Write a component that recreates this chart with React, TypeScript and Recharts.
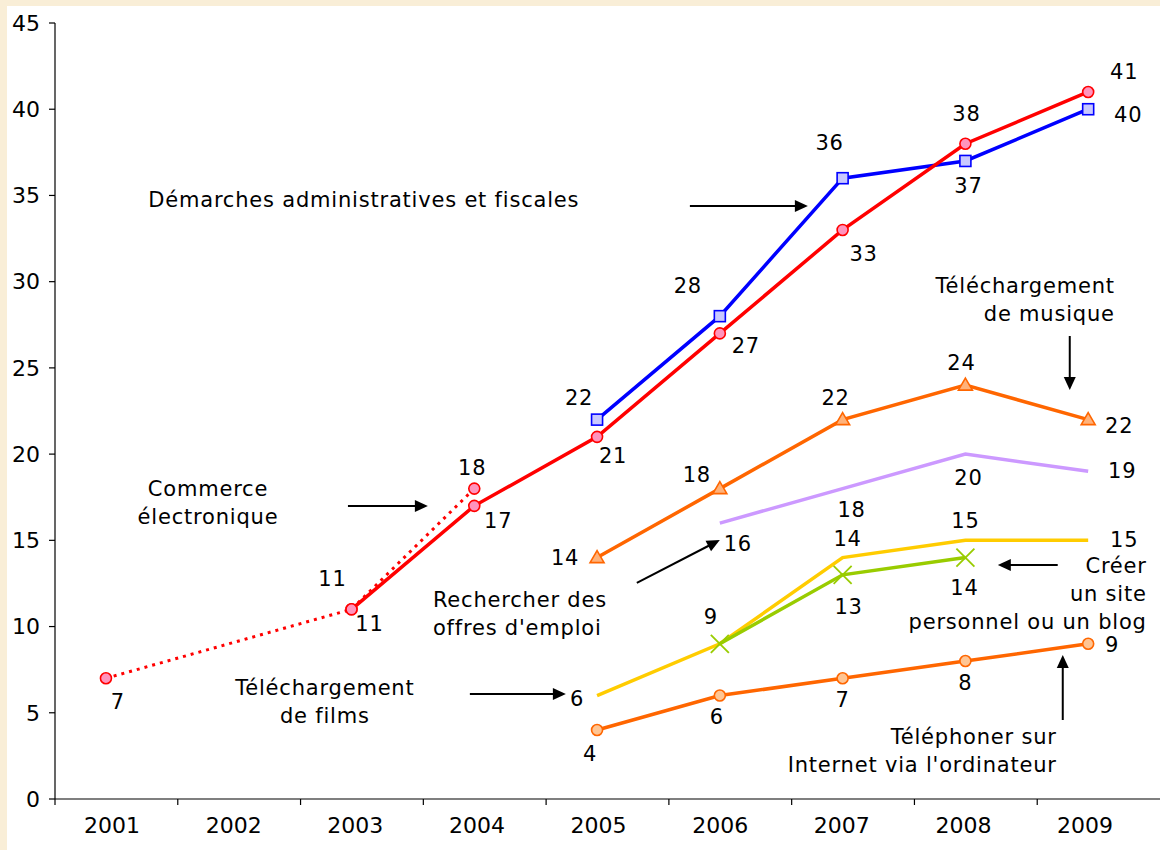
import React from 'react';
import { LineChart, Line, XAxis, YAxis, LabelList, ReferenceDot, ReferenceLine } from 'recharts';

const FONT = '"DejaVu Sans", Verdana, sans-serif';

// ---------- data ----------
const years = ['2001', '2002', '2003', '2004', '2005', '2006', '2007', '2008', '2009'];
const demarches = [null, null, null, null, 22, 28, 36, 37, 40];
const commerce = [null, null, 11, 17, 21, 27, 33, 38, 41];
const commerceEarly = [7, null, 11, 18, null, null, null, null, null];
const musique = [null, null, null, null, 14, 18, 22, 24, 22];
const emploi = [null, null, null, null, null, 16, 18, 20, 19];
const films = [null, null, null, null, 6, 9, 14, 15, 15];
const blog = [null, null, null, null, null, 9, 13, 14, null];
const telephone = [null, null, null, null, 4, 6, 7, 8, 9];
const yTicks = [0, 5, 10, 15, 20, 25, 30, 35, 40, 45];

const rows = years.map((year, i) => ({
  x: i,
  year,
  demarches: demarches[i],
  commerce: commerce[i],
  commerceEarly: commerceEarly[i],
  musique: musique[i],
  emploi: emploi[i],
  films: films[i],
  blog: blog[i],
  telephone: telephone[i],
}));

// ---------- layout / style ----------
const X_MIN = -0.415;
const X_MAX = 8.585;
const LABEL_MIN = -0.469;
const LABEL_MAX = 8.616;
const catTicks = years.map((_, i) => i);
const boundaryTicks = years.map((_, i) => X_MIN + i);

type Off = [number, number] | null;
const labelOffsets: Record<string, Off[]> = {
  demarches: [null, null, null, null, [-18, -22], [-32, -30], [-13, -35], [3, 25], [40, 6]],
  commerce: [null, null, [18, 15], [24, 15], [16, 19], [26, 13], [21, 24], [1, -30], [36, -20]],
  commerceEarly: [[12, 24], null, [-19, -30], [-2, -21], null, null, null, null, null],
  musique: [null, null, null, null, [-32, 0], [-23, -14], [-7, -22], [-4, -22], [31, 6]],
  emploi: [null, null, null, null, null, [18, 21], [9, 21], [3, 24], [34, 0]],
  films: [null, null, null, null, [-20, 3], null, [5, -19], [0, -19], [36, 0]],
  blog: [null, null, null, null, null, [-9, -27], [6, 32], [-1, 30], null],
  telephone: [null, null, null, null, [-7, 24], [-3, 21], [0, 22], [0, 22], [24, 1]],
};

const notes = [
  { x: 2.1, y: 34.74, anchor: 'middle', lines: ['Démarches administratives et fiscales'] },
  { x: 8.217, y: 28.94, anchor: 'end', lines: ['Téléchargement', 'de musique'] },
  { x: 0.831, y: 17.17, anchor: 'middle', lines: ['Commerce', 'électronique'] },
  { x: 2.663, y: 10.7, anchor: 'start', lines: ['Rechercher des', "offres d'emploi"] },
  { x: 1.783, y: 5.625, anchor: 'middle', lines: ['Téléchargement', 'de films'] },
  { x: 8.477, y: 11.89, anchor: 'end', lines: ['Créer', 'un site', 'personnel ou un blog'] },
  { x: 7.744, y: 2.755, anchor: 'end', lines: ['Téléphoner sur', "Internet via l'ordinateur"] },
];

const arrows = [
  { x1: 4.756, y1: 34.39, x2: 5.717, y2: 34.39 },
  { x1: 7.85, y1: 26.85, x2: 7.85, y2: 23.72 },
  { x1: 1.971, y1: 16.99, x2: 2.622, y2: 16.99 },
  { x1: 4.324, y1: 12.53, x2: 5.0, y2: 15.02 },
  { x1: 2.964, y1: 6.09, x2: 3.746, y2: 6.09 },
  { x1: 7.752, y1: 13.57, x2: 7.264, y2: 13.57 },
  { x1: 7.793, y1: 4.58, x2: 7.793, y2: 8.35 },
];

const TEXT_SIZE = 21;
const LETTER = 0.8;
const LINE_H = 28;

const makeLabel = (offs: Off[]) => (props: any) => {
  const x = props.x ?? props.viewBox?.x;
  const y = props.y ?? props.viewBox?.y;
  const idx = props.index;
  const v = props.value;
  if (v == null || x == null || y == null || idx == null) return <g key={`l${idx}`} />;
  const o = offs[idx];
  if (!o) return <g key={`l${idx}`} />;
  return (
    <text
      key={`l${idx}`}
      x={x + o[0]}
      y={y + o[1]}
      textAnchor="middle"
      dominantBaseline="central"
      fontFamily={FONT}
      fontSize={TEXT_SIZE}
      letterSpacing={LETTER}
      fill="#000"
    >
      {v}
    </text>
  );
};

const empty = (p: any) => <g key={`e${p.index}`} />;

const circleDot = (fill: string, stroke: string) => (p: any) => {
  if (p.cx == null || p.cy == null || p.value == null) return empty(p);
  return <circle key={`c${p.index}`} cx={p.cx} cy={p.cy} r={5.5} fill={fill} stroke={stroke} strokeWidth={1.6} />;
};

const squareDot = (p: any) => {
  if (p.cx == null || p.cy == null || p.value == null) return empty(p);
  return (
    <rect key={`s${p.index}`} x={p.cx - 5.5} y={p.cy - 5.5} width={11} height={11} fill="#c8c8ff" stroke="#0000ff" strokeWidth={1.6} />
  );
};

const triangleDot = (p: any) => {
  if (p.cx == null || p.cy == null || p.value == null) return empty(p);
  const { cx, cy } = p;
  return (
    <polygon
      key={`t${p.index}`}
      points={`${cx},${cy - 7} ${cx + 7},${cy + 5} ${cx - 7},${cy + 5}`}
      fill="#ffb27a"
      stroke="#ff6600"
      strokeWidth={1.6}
    />
  );
};

const crossDot = (p: any) => {
  if (p.cx == null || p.cy == null || p.value == null) return empty(p);
  const { cx, cy } = p;
  const s = 9;
  return (
    <g key={`x${p.index}`}>
      <line x1={cx - s} y1={cy - s} x2={cx + s} y2={cy + s} stroke="#99cc00" strokeWidth={1.8} />
      <line x1={cx - s} y1={cy + s} x2={cx + s} y2={cy - s} stroke="#99cc00" strokeWidth={1.8} />
    </g>
  );
};

const NoteText = ({ cx, cy, lines, anchor }: any) => {
  if (cx == null || cy == null) return <g />;
  const top = cy - ((lines.length - 1) * LINE_H) / 2;
  return (
    <text
      x={cx}
      y={top}
      textAnchor={anchor}
      fontFamily={FONT}
      fontSize={TEXT_SIZE}
      letterSpacing={LETTER}
      fill="#000"
      dominantBaseline="central"
    >
      {lines.map((l: string, k: number) => (
        <tspan key={k} x={cx} y={top + k * LINE_H} dominantBaseline="central">
          {l}
        </tspan>
      ))}
    </text>
  );
};

const ArrowShape = (p: any) => {
  const { x1, y1, x2, y2 } = p;
  if ([x1, y1, x2, y2].some((v) => v == null || isNaN(v))) return <g />;
  const dx = x2 - x1;
  const dy = y2 - y1;
  const len = Math.hypot(dx, dy) || 1;
  const ux = dx / len;
  const uy = dy / len;
  const hl = 13;
  const hw = 6;
  const bx = x2 - ux * hl;
  const by = y2 - uy * hl;
  return (
    <g>
      <line x1={x1} y1={y1} x2={bx + ux * 1} y2={by + uy * 1} stroke="#000" strokeWidth={2} />
      <polygon points={`${x2},${y2} ${bx - uy * hw},${by + ux * hw} ${bx + uy * hw},${by - ux * hw}`} fill="#000" />
    </g>
  );
};

const axisTick = { fill: '#000', fontFamily: FONT, fontSize: 22 };

export default function App() {
  return (
    <div style={{ position: 'absolute', left: 0, top: 0, width: 1160, height: 850, background: '#f9eed7', overflow: 'hidden' }}>
      <div style={{ position: 'absolute', left: 7, top: 6, width: 1153, height: 844, background: '#ffffff' }} />
      <div style={{ position: 'absolute', left: 0, top: 0 }}>
        <LineChart width={1160} height={850} data={rows} margin={{ top: 23, right: 0, bottom: 0, left: 8 }}>
          <XAxis
            xAxisId="m"
            type="number"
            dataKey="x"
            domain={[LABEL_MIN, LABEL_MAX]}
            ticks={catTicks}
            tickFormatter={(v: number) => years[v] ?? ''}
            height={51}
            axisLine={false}
            tickLine={false}
            tickSize={0}
            tickMargin={18}
            tick={{ fill: '#000', fontFamily: FONT, fontSize: 22 }}
            allowDataOverflow
          />
          <XAxis
            xAxisId="b"
            type="number"
            dataKey="x"
            domain={[X_MIN, X_MAX]}
            ticks={boundaryTicks}
            tickFormatter={() => ''}
            mirror
            height={1}
            tickSize={-6}
            axisLine={{ stroke: '#000', strokeWidth: 1.2 }}
            tickLine={{ stroke: '#000', strokeWidth: 1.2 }}
            allowDataOverflow
          />
          <YAxis
            type="number"
            domain={[0, 45]}
            ticks={yTicks}
            width={47}
            tickSize={6}
            tickMargin={9}
            axisLine={{ stroke: '#000', strokeWidth: 1.2 }}
            tickLine={{ stroke: '#000', strokeWidth: 1.2 }}
            tick={axisTick}
            allowDataOverflow
          />

          <Line xAxisId="b" dataKey="demarches" stroke="#0000ff" strokeWidth={3.5} dot={squareDot} activeDot={false} isAnimationActive={false}>
            <LabelList dataKey="demarches" content={makeLabel(labelOffsets.demarches)} />
          </Line>
          <Line xAxisId="b" dataKey="commerceEarly" stroke="#ff0000" strokeWidth={3} strokeDasharray="3 5" connectNulls dot={circleDot('#ff94bd', '#ff0000')} activeDot={false} isAnimationActive={false}>
            <LabelList dataKey="commerceEarly" content={makeLabel(labelOffsets.commerceEarly)} />
          </Line>
          <Line xAxisId="b" dataKey="commerce" stroke="#ff0000" strokeWidth={3.5} dot={circleDot('#ff94bd', '#ff0000')} activeDot={false} isAnimationActive={false}>
            <LabelList dataKey="commerce" content={makeLabel(labelOffsets.commerce)} />
          </Line>
          <Line xAxisId="b" dataKey="musique" stroke="#ff6600" strokeWidth={3.5} dot={triangleDot} activeDot={false} isAnimationActive={false}>
            <LabelList dataKey="musique" content={makeLabel(labelOffsets.musique)} />
          </Line>
          <Line xAxisId="b" dataKey="emploi" stroke="#cc99ff" strokeWidth={3.5} dot={false} activeDot={false} isAnimationActive={false}>
            <LabelList dataKey="emploi" content={makeLabel(labelOffsets.emploi)} />
          </Line>
          <Line xAxisId="b" dataKey="films" stroke="#ffcc00" strokeWidth={3.5} dot={false} activeDot={false} isAnimationActive={false}>
            <LabelList dataKey="films" content={makeLabel(labelOffsets.films)} />
          </Line>
          <Line xAxisId="b" dataKey="blog" stroke="#99cc00" strokeWidth={3.5} dot={crossDot} activeDot={false} isAnimationActive={false}>
            <LabelList dataKey="blog" content={makeLabel(labelOffsets.blog)} />
          </Line>
          <Line xAxisId="b" dataKey="telephone" stroke="#ff6600" strokeWidth={3.5} dot={circleDot('#ffc593', '#ff6600')} activeDot={false} isAnimationActive={false}>
            <LabelList dataKey="telephone" content={makeLabel(labelOffsets.telephone)} />
          </Line>

          {arrows.map((a, i) => (
            <ReferenceLine
              key={`a${i}`}
              xAxisId="b"
              segment={[{ x: a.x1, y: a.y1 }, { x: a.x2, y: a.y2 }]}
              ifOverflow="visible"
              shape={(p: any) => <ArrowShape {...p} />}
            />
          ))}
          {notes.map((n, i) => (
            <ReferenceDot
              key={`n${i}`}
              xAxisId="b"
              x={n.x}
              y={n.y}
              r={1}
              ifOverflow="visible"
              shape={(p: any) => <NoteText cx={p.cx} cy={p.cy} lines={n.lines} anchor={n.anchor} />}
            />
          ))}
        </LineChart>
      </div>
    </div>
  );
}
